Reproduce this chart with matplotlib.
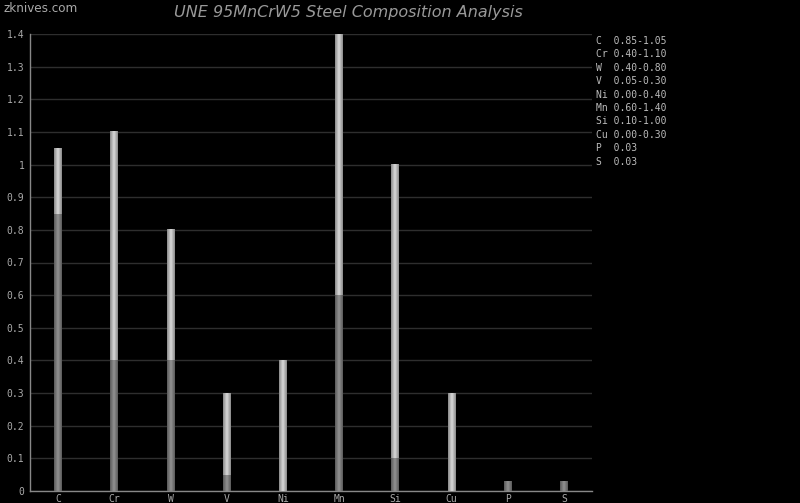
import numpy as np
import matplotlib
matplotlib.use("Agg")
import matplotlib.pyplot as plt
from matplotlib.colors import LinearSegmentedColormap

elements = ["C", "Cr", "W", "V", "Ni", "Mn", "Si", "Cu", "P", "S"]
min_vals = [0.85, 0.40, 0.40, 0.05, 0.00, 0.60, 0.10, 0.00, 0.03, 0.03]
max_vals = [1.05, 1.10, 0.80, 0.30, 0.40, 1.40, 1.00, 0.30, 0.03, 0.03]
legend_lines = ["C  0.85-1.05", "Cr 0.40-1.10", "W  0.40-0.80", "V  0.05-0.30",
                "Ni 0.00-0.40", "Mn 0.60-1.40", "Si 0.10-1.00", "Cu 0.00-0.30",
                "P  0.03", "S  0.03"]
yticks = [0, 0.1, 0.2, 0.3, 0.4, 0.5, 0.6, 0.7, 0.8, 0.9, 1, 1.1, 1.2, 1.3, 1.4]
ytick_labels = ["0", "0.1", "0.2", "0.3", "0.4", "0.5", "0.6", "0.7", "0.8", "0.9",
                "1", "1.1", "1.2", "1.3", "1.4"]

fig = plt.figure(figsize=(8.0, 5.03), dpi=100, facecolor="black")
ax = fig.add_axes([30/800, 12/503, 562/800, 457/503], facecolor="black")

dark = LinearSegmentedColormap.from_list("d", ["#5a5a5a", "#939393", "#5a5a5a"])
light = LinearSegmentedColormap.from_list("l", ["#8a8a8a", "#dadada", "#8a8a8a"])
grad = np.linspace(0, 1, 32).reshape(1, -1)
w = 0.14
for i, (lo, hi) in enumerate(zip(min_vals, max_vals)):
    if lo > 0:
        ax.imshow(grad, cmap=dark, aspect="auto", extent=[i - w/2, i + w/2, 0, lo],
                  interpolation="bilinear", zorder=3)
    if hi > lo:
        ax.imshow(grad, cmap=light, aspect="auto", extent=[i - w/2, i + w/2, lo, hi],
                  interpolation="bilinear", zorder=3)
ax.set_xlim(-0.5, 9.5)
ax.set_ylim(0, 1.4)

ax.set_yticks(yticks)
ax.set_yticklabels(ytick_labels)
ax.set_xticks(range(len(elements)))
ax.set_xticklabels(elements)
ax.grid(axis="y", color="#2e2e2e", linewidth=1, zorder=0)
ax.tick_params(axis="both", length=0, colors="#aaaaaa", labelsize=7, pad=4)
for lab in ax.get_xticklabels() + ax.get_yticklabels():
    lab.set_family("DejaVu Sans Mono")
ax.tick_params(axis="x", pad=2)
for s in ["top", "right"]:
    ax.spines[s].set_visible(False)
for s in ["left", "bottom"]:
    ax.spines[s].set_color("#888888")
    ax.spines[s].set_linewidth(1)

for k, line in enumerate(legend_lines):
    fig.text(596/800, 1 - (41 + k*13.4)/503, line, family="DejaVu Sans Mono",
             fontsize=7, color="#bbbbbb", va="center", ha="left")

fig.text(348/800, 1 - 12/503, "UNE 95MnCrW5 Steel Composition Analysis",
         fontsize=11.5, style="italic", color="#999999", ha="center", va="center")
fig.text(4/800, 1 - 9/503, "zknives.com", fontsize=9.5, color="#aaaaaa",
         family="DejaVu Sans", stretch="condensed", ha="left", va="center")

fig.savefig("out.png", dpi=100, facecolor="black")
